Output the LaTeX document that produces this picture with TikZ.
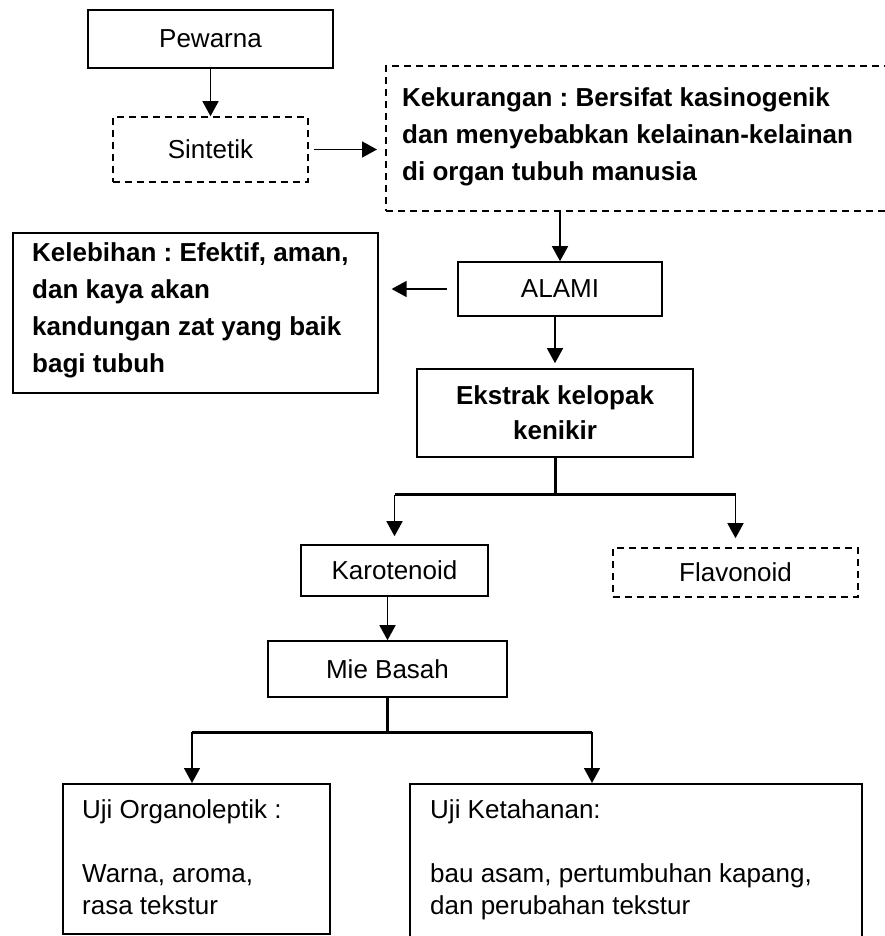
\documentclass[tikz,border=0pt]{standalone}
\usepackage{fontspec}
\setmainfont{Liberation Sans}
\usetikzlibrary{arrows.meta,calc}
\frenchspacing
\begin{document}
\begin{tikzpicture}[x=1pt,y=-1pt,
  box/.style={draw=black, line width=1.6pt, inner sep=0pt, font=\fontsize{26}{36}\selectfont},
  dbox/.style={box, dash pattern=on 7pt off 5pt},
  lbl/.style={inner sep=0pt, anchor=north west, align=left},
  boldtxt/.style={font={\bfseries\fontsize{26}{37}\selectfont}},
  plaintxt/.style={font={\fontsize{26}{32}\selectfont}},
  arr/.style={line width=1.5pt, -{Triangle[width=16pt,length=15pt]}},
  bar/.style={line width=3pt},
]
\useasboundingbox (0,0) rectangle (885,936);
% boxes
\node[box, minimum width=245pt, minimum height=58pt] (pew) at (210.5,39) {Pewarna};
\node[dbox, minimum width=195pt, minimum height=65pt] (sin) at (210.5,149.5) {Sintetik};
\node[dbox, minimum width=510pt, minimum height=145pt, anchor=north west] (kek) at (385,65) {};
\node[lbl, boldtxt] (kektxt) at (402,87) {Kekurangan : Bersifat kasinogenik\\dan menyebabkan kelainan-kelainan\\di organ tubuh manusia};
\node[box, minimum width=365pt, minimum height=160pt, anchor=north west] (keb) at (12,232) {};
\node[lbl, boldtxt] (kebtxt) at (32,242) {Kelebihan : Efektif, aman,\\dan kaya akan\\kandungan zat yang baik\\bagi tubuh};
\node[box, minimum width=204pt, minimum height=54pt] (ala) at (560,289) {ALAMI};
\node[box, boldtxt, minimum width=276pt, minimum height=88pt, align=center] (eks) at (555,413) {Ekstrak kelopak\\[-2pt]kenikir};
\node[box, minimum width=187pt, minimum height=51pt] (kar) at (394.5,570.5) {Karotenoid};
\node[dbox, minimum width=245pt, minimum height=49pt] (fla) at (735.5,572.5) {Flavonoid};
\node[box, minimum width=239pt, minimum height=56pt] (mie) at (387.5,669) {Mie Basah};
\node[box, minimum width=267pt, minimum height=150pt, anchor=north west] (org) at (62,783) {};
\node[lbl, plaintxt] (orgtxt) at (82,799) {Uji Organoleptik :\\[32pt]Warna, aroma,\\rasa tekstur};
\node[box, minimum width=452pt, minimum height=160pt, anchor=north west] (ket) at (409,783) {};
\node[lbl, plaintxt] (kettxt) at (430,799) {Uji Ketahanan:\\[32pt]bau asam, pertumbuhan kapang,\\dan perubahan tekstur};
% connectors
\draw[arr] (pew.south -| sin.north) -- (sin.north);
\draw[arr, shorten <=5pt, shorten >=8pt] (sin.east) -- (sin.east -| kek.west);
\draw[arr] (ala.north |- kek.south) -- (ala.north);
\draw[arr, shorten <=10pt, shorten >=13pt] (ala.west) -- (ala.west -| keb.east);
\draw[arr, shorten >=5pt] (ala.south -| eks.north) -- (eks.north);
\coordinate (j1) at ($(eks.south)+(0,37)$);
\draw[bar] (eks.south) -- (j1);
\draw[bar] (j1 -| kar.north) -- (j1 -| fla.north);
\draw[arr, shorten >=8pt] (j1 -| kar.north) -- (kar.north);
\draw[arr, shorten >=9pt] (j1 -| fla.north) -- (fla.north);
\draw[arr] (kar.south -| mie.north) -- (mie.north);
\coordinate (j2) at ($(mie.south)+(0,35)$);
\coordinate (j2l) at (192,732);
\coordinate (j2r) at (592,732);
\draw[bar] (mie.south) -- (j2);
\draw[bar] (j2l) -- (j2r);
\draw[arr] (j2l) -- (j2l |- org.north);
\draw[arr] (j2r) -- (j2r |- ket.north);
\end{tikzpicture}
\end{document}
